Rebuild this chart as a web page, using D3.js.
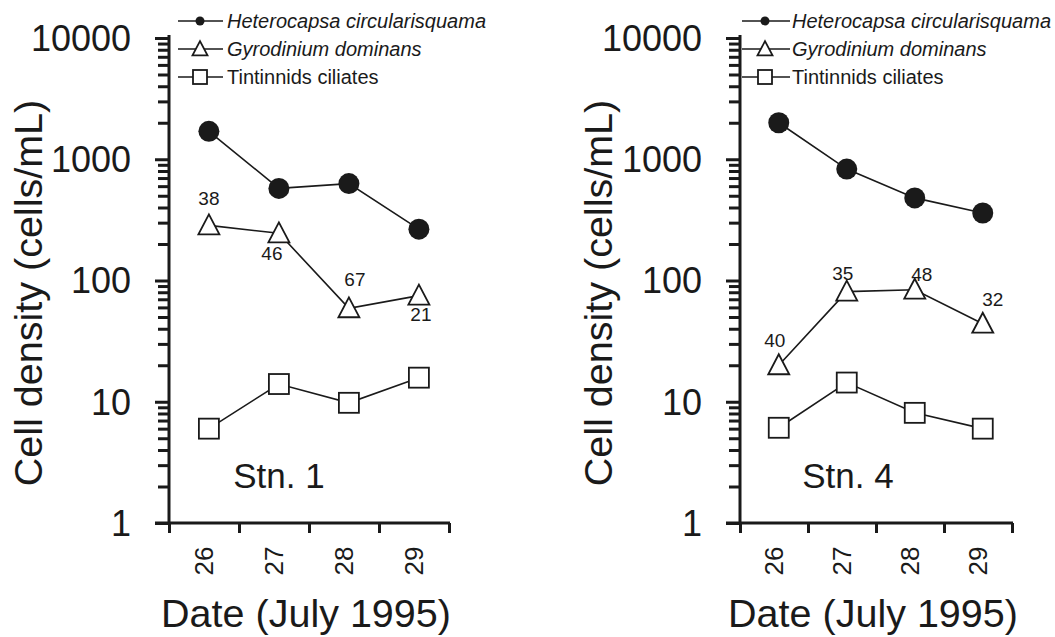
<!DOCTYPE html>
<html>
<head>
<meta charset="utf-8">
<script src="https://cdn.jsdelivr.net/npm/d3@7"></script>
<style>
  html, body { margin: 0; padding: 0; background: #fff; }
  svg { display: block; font-family: "Liberation Sans", Arial, sans-serif; }
</style>
</head>
<body>
<svg id="chart" width="1055" height="637"></svg>
<script>
// ---------- data ----------
const dates = ["26", "27", "28", "29"];
const seriesNames = ["Heterocapsa circularisquama", "Gyrodinium dominans", "Tintinnids ciliates"];
const yTickValues = [1, 10, 100, 1000, 10000];

const stn1Hetero = [1700, 575, 630, 265];
const stn1Gyro = [285, 245, 59, 75];
const stn1Tint = [6, 14, 9.8, 15.8];
const stn1GyroLabels = ["38", "46", "67", "21"];

const stn4Hetero = [2000, 830, 480, 360];
const stn4Gyro = [20, 81, 84, 44];
const stn4Tint = [6.1, 14.4, 8.1, 6];
const stn4GyroLabels = ["40", "35", "48", "32"];

// ---------- layout ----------
const svg = d3.select("#chart");
const yTop = 38, yBottom = 523;
const y = d3.scaleLog().domain([1, 10000]).range([yBottom, yTop]);

const panels = [
  { name: "Stn. 1", x0: 169, w: 280, hetero: stn1Hetero, gyro: stn1Gyro, tint: stn1Tint, labels: stn1GyroLabels,
    labelOff: [[0, -27], [-7, 20], [6, -29], [2, 19]],
    legendLine: [178, 223], legendMark: 200, legendText: 227, stnX: 279, titleX: 28 },
  { name: "Stn. 4", x0: 740, w: 272, hetero: stn4Hetero, gyro: stn4Gyro, tint: stn4Tint, labels: stn4GyroLabels,
    labelOff: [[-4, -25], [-4, -18], [7, -16], [10, -25]],
    legendLine: [742, 790], legendMark: 765, legendText: 792, stnX: 848, titleX: 598 }
];

const lineColor = "#1a1a1a";

function circleMark(g, cx, cy, r) {
  g.append("circle").attr("cx", cx).attr("cy", cy).attr("r", r)
    .attr("fill", lineColor).attr("stroke", "none");
}
function triMark(g, cx, cy, s) {
  const h = s * 0.95;
  g.append("path")
    .attr("d", `M${cx},${cy - h * 0.55}L${cx + s / 2},${cy + h * 0.45}L${cx - s / 2},${cy + h * 0.45}Z`)
    .attr("fill", "#fff").attr("stroke", lineColor).attr("stroke-width", 1.8);
}
function sqMark(g, cx, cy, s) {
  g.append("rect").attr("x", cx - s / 2).attr("y", cy - s / 2).attr("width", s).attr("height", s)
    .attr("fill", "#fff").attr("stroke", lineColor).attr("stroke-width", 1.8);
}

panels.forEach(p => {
  const g = svg.append("g");
  // x scale: band-like linear scale, ticks at category boundaries
  const x = d3.scaleLinear().domain([0, dates.length]).range([p.x0, p.x0 + p.w]);
  const xPoint = i => x(i + 0.57);
  const xLabel = i => x(i + 0.5);

  // y axis (log) with minor ticks
  const yAxis = d3.axisLeft(y)
    .tickValues(y.ticks())
    .tickSize(12)
    .tickFormat("");
  const yg = g.append("g").attr("transform", `translate(${p.x0},0)`).call(yAxis);
  yg.select(".domain").remove();
  yg.selectAll(".tick line").attr("stroke", lineColor).attr("stroke-width", 3)
    .attr("x2", d => yTickValues.includes(d) ? -14 : -11);
  g.append("line").attr("x1", p.x0).attr("x2", p.x0).attr("y1", yTop - 3).attr("y2", yBottom + 1)
    .attr("stroke", lineColor).attr("stroke-width", 3);
  // major labels
  g.selectAll(".ylab").data(yTickValues).enter().append("text")
    .attr("x", p.x0 - 38).attr("y", d => y(d))
    .attr("dy", "0.36em")
    .attr("text-anchor", "end").attr("font-size", 36).attr("fill", lineColor)
    .text(d => String(d));

  // x axis
  const xAxis = d3.axisBottom(x).tickValues(d3.range(0, dates.length + 1)).tickSize(10).tickFormat("");
  const xg = g.append("g").attr("transform", `translate(0,${yBottom})`).call(xAxis);
  xg.select(".domain").remove();
  xg.selectAll(".tick line").attr("stroke", lineColor).attr("stroke-width", 3);
  g.append("line").attr("x1", p.x0 - 14).attr("x2", p.x0 + p.w + 1).attr("y1", yBottom).attr("y2", yBottom)
    .attr("stroke", lineColor).attr("stroke-width", 3);
  g.selectAll(".xlab").data(dates).enter().append("text")
    .attr("transform", (d, i) => `translate(${xLabel(i)},${yBottom + 38}) rotate(-90)`)
    .attr("text-anchor", "middle").attr("dy", "0.36em")
    .attr("font-size", 26).attr("fill", lineColor)
    .text(d => d);

  // titles
  g.append("text").attr("x", p.x0 + p.w / 2 - 3).attr("y", 613).attr("dy", "0.36em")
    .attr("text-anchor", "middle").attr("font-size", 39.5).attr("fill", lineColor)
    .text("Date (July 1995)");
  g.append("text").attr("transform", `translate(${p.titleX},293) rotate(-90)`)
    .attr("text-anchor", "middle").attr("dy", "0.36em").attr("font-size", 39.5).attr("fill", lineColor)
    .text("Cell density (cells/mL)");
  g.append("text").attr("x", p.stnX).attr("y", 475).attr("dy", "0.36em")
    .attr("text-anchor", "middle").attr("font-size", 35).attr("fill", lineColor)
    .text(p.name);

  // series lines
  const line = d3.line().x((d, i) => xPoint(i)).y(d => y(d));
  [p.hetero, p.gyro, p.tint].forEach(vals => {
    g.append("path").attr("d", line(vals)).attr("fill", "none")
      .attr("stroke", lineColor).attr("stroke-width", 1.6);
  });
  p.hetero.forEach((v, i) => circleMark(g, xPoint(i), y(v), 10.5));
  p.gyro.forEach((v, i) => triMark(g, xPoint(i), y(v), 21));
  p.tint.forEach((v, i) => sqMark(g, xPoint(i), y(v), 20));

  // gyro annotations
  p.gyro.forEach((v, i) => {
    g.append("text").attr("x", xPoint(i) + p.labelOff[i][0]).attr("y", y(v) + p.labelOff[i][1])
      .attr("dy", "0.36em").attr("text-anchor", "middle").attr("font-size", 19).attr("fill", lineColor)
      .text(p.labels[i]);
  });

  // legend
  const legendRows = [21, 49, 77];
  seriesNames.forEach((name, k) => {
    const ly = legendRows[k];
    g.append("line").attr("x1", p.legendLine[0]).attr("x2", p.legendLine[1]).attr("y1", ly).attr("y2", ly)
      .attr("stroke", lineColor).attr("stroke-width", 1.6);
    if (k === 0) circleMark(g, p.legendMark, ly, 4.5);
    if (k === 1) triMark(g, p.legendMark, ly, 15);
    if (k === 2) sqMark(g, p.legendMark, ly, 14);
    g.append("text").attr("x", p.legendText).attr("y", ly).attr("dy", "0.36em")
      .attr("font-size", 20).attr("font-style", k < 2 ? "italic" : "normal").attr("fill", lineColor)
      .text(name);
  });
});
</script>
</body>
</html>
